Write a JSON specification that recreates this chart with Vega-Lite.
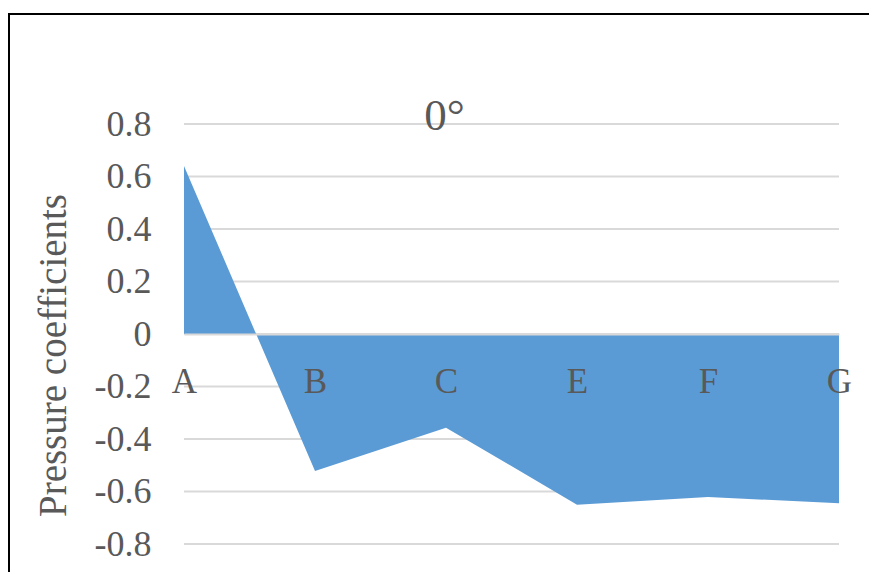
{
  "$schema": "https://vega.github.io/schema/vega-lite/v6.json",
  "autosize": {"type": "none"},
  "width": 863,
  "height": 561,
  "padding": {"left": 9, "top": 14, "right": -3, "bottom": -3},
  "background": "white",
  "title": {
    "text": "0°",
    "font": "Liberation Serif",
    "fontSize": 45,
    "fontWeight": "normal",
    "color": "#595959",
    "anchor": "middle",
    "frame": "group",
    "baseline": "alphabetic",
    "offset": 0,
    "dx": 4,
    "dy": 161
  },
  "layer": [
    {
      "data": {"values": [
        {"tick": 0.8}, {"tick": 0.6}, {"tick": 0.4}, {"tick": 0.2}, {"tick": 0},
        {"tick": -0.2}, {"tick": -0.4}, {"tick": -0.6}, {"tick": -0.8}
      ]},
      "mark": {"type": "rule", "color": "#d9d9d9", "strokeWidth": 2},
      "encoding": {
        "y": {"field": "tick", "type": "quantitative", "title": "Pressure coefficients"},
        "x": {"datum": "A", "title": null},
        "x2": {"datum": "G"}
      }
    },
    {
      "data": {"values": [
        {"point": "A", "cp": 0.64},
        {"point": "B", "cp": -0.522},
        {"point": "C", "cp": -0.357},
        {"point": "E", "cp": -0.65},
        {"point": "F", "cp": -0.621},
        {"point": "G", "cp": -0.645}
      ]},
      "mark": {"type": "area", "color": "#5b9bd5", "opacity": 1, "interpolate": "linear"},
      "encoding": {
        "x": {
          "field": "point",
          "type": "nominal",
          "title": null,
          "scale": {"type": "point", "domain": ["A", "B", "C", "E", "F", "G"], "range": [175, 830], "padding": 0},
          "axis": {
            "orient": "bottom",
            "offset": -241,
            "grid": false,
            "ticks": false,
            "domain": true,
            "domainColor": "#d9d9d9",
            "domainWidth": 2,
            "labelAngle": 0,
            "labelAlign": "center",
            "labelFont": "Liberation Serif",
            "labelFontSize": 35,
            "labelColor": "#595959",
            "labelBaseline": "alphabetic",
            "labelPadding": 58,
            "labelOverlap": false,
            "zindex": 1
          }
        },
        "y": {
          "field": "cp",
          "type": "quantitative",
          "title": "Pressure coefficients",
          "scale": {"domain": [-0.8, 0.8], "range": [530, 110], "nice": false},
          "axis": {
            "offset": -175,
            "values": [0.8, 0.6, 0.4, 0.2, 0, -0.2, -0.4, -0.6, -0.8],
            "labelExpr": "(datum.value < 0 ? '-' : '') + format(abs(datum.value), '.1~f')",
            "grid": false,
            "ticks": false,
            "domain": false,
            "labelFont": "Liberation Serif",
            "labelFontSize": 36,
            "labelColor": "#595959",
            "labelPadding": 33,
            "labelBaseline": "middle",
            "labelOverlap": false,
            "titleFont": "Liberation Serif",
            "titleFontSize": 39,
            "titleFontWeight": "normal",
            "titleColor": "#595959",
            "titleAngle": -90,
            "titleAlign": "center",
            "titleBaseline": "alphabetic",
            "titleX": -119,
            "titleY": 341
          }
        },
        "y2": {"datum": 0}
      }
    }
  ],
  "config": {
    "view": {"stroke": "#000000", "strokeWidth": 2},
    "font": "Liberation Serif"
  }
}
